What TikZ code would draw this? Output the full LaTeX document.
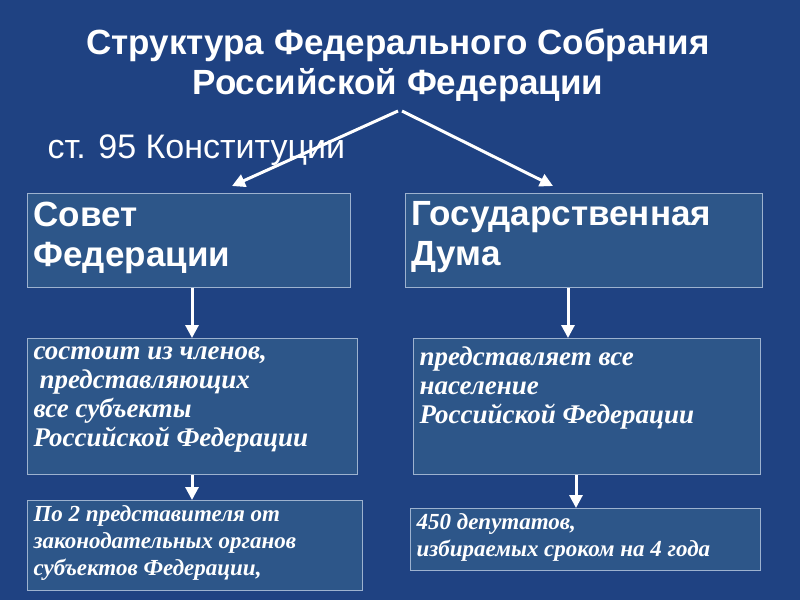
\documentclass[tikz,border=0pt]{standalone}
\usepackage{fontspec}
\setmainfont{Liberation Sans}
\newfontfamily\serifbi{Liberation Serif}
\usetikzlibrary{arrows.meta}
\definecolor{bg}{HTML}{1F4282}
\definecolor{boxfill}{HTML}{2D5689}
\definecolor{boxline}{HTML}{9DB2CF}
\tikzset{
 boxst/.style={draw=boxline, line width=1.2pt, fill=boxfill, anchor=north west, inner xsep=6pt, inner ysep=8pt, text=white, align=left},
 arr/.style={draw=white, line width=3pt, -{Triangle[length=13pt,width=13pt,fill=white]}}
}
\newcommand{\bx}[3]{\parbox[c][#2][t]{#1}{#3}}
\begin{document}
\begin{tikzpicture}[x=1pt,y=-1pt]
\fill[bg] (0,0) rectangle (800,600);
\useasboundingbox (0,0) rectangle (800,600);
\node[text=white, font=\bfseries\fontsize{35}{40}\selectfont, align=center] (title) at (398,65) {Структура Федерального Собрания\\Российской Федерации};
\node[text=white, font=\fontsize{34}{38}\selectfont, anchor=west] (art) at (44,150) {ст. 95 Конституции};
\coordinate (top) at (398,111);
\node[boxst, font=\bfseries\fontsize{35}{40}\selectfont] (sf) at (27,193) {\bx{311pt}{78pt}{Совет\\Федерации}};
\node[boxst, font=\bfseries\fontsize{35}{40}\selectfont] (gd) at (405,193) {\bx{345pt}{78pt}{Государственная\\Дума}};
\node[boxst, font=\serifbi\bfseries\itshape\fontsize{27}{29}\selectfont] (sfm) at (27,338) {\bx{318pt}{120pt}{состоит из членов,\\\hspace*{6pt}представляющих\\все субъекты\\Российской Федерации}};
\node[boxst, font=\serifbi\bfseries\itshape\fontsize{27}{29}\selectfont] (gdm) at (413,338) {\bx{335pt}{120pt}{представляет все\\население\\Российской Федерации}};
\node[boxst, inner ysep=5pt, font=\serifbi\bfseries\itshape\fontsize{23}{27}\selectfont] (sfb) at (27,500) {\bx{323pt}{80pt}{По 2 представителя от\\законодательных органов\\субъектов Федерации,}};
\node[boxst, inner ysep=5pt, font=\serifbi\bfseries\itshape\fontsize{23}{27}\selectfont] (gdb) at (410,508) {\bx{338pt}{52pt}{450 депутатов,\\избираемых сроком на 4 года}};
\draw[arr] (top) -- (232,186);
\draw[arr] ([xshift=4pt]top) -- (553,186);
\draw[arr] (sf.south -| 192,0) -- (sfm.north -| 192,0);
\draw[arr] (gd.south -| 568,0) -- (gdm.north -| 568,0);
\draw[arr] (sfm.south -| 192,0) -- (sfb.north -| 192,0);
\draw[arr] (gdm.south -| 576,0) -- (gdb.north -| 576,0);
\end{tikzpicture}
\end{document}
